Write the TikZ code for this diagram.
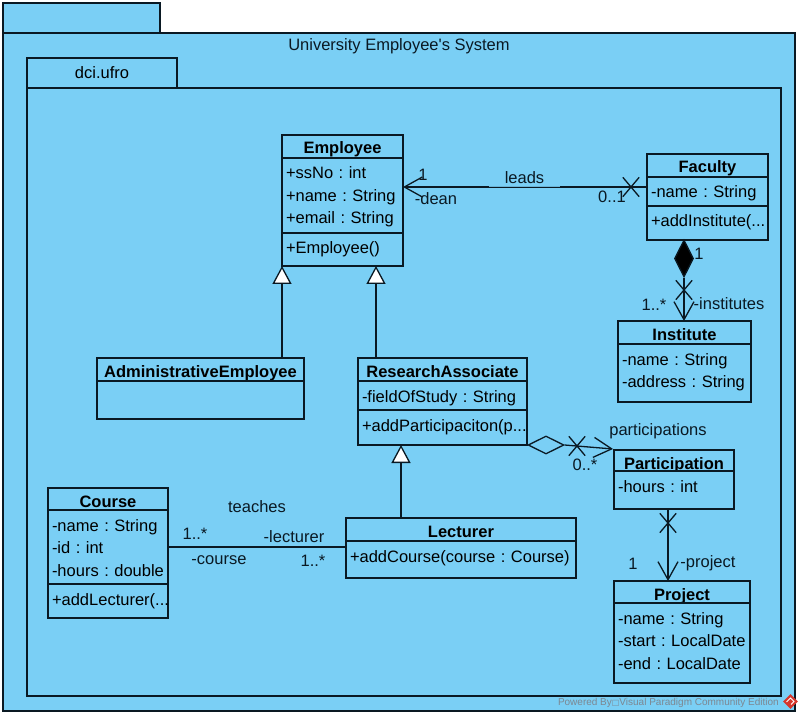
\documentclass[tikz,border=0pt]{standalone}
\usepackage{fontspec}
\setmainfont{Liberation Sans}
\newfontfamily\symfont{DejaVu Sans}
\definecolor{umlblue}{RGB}{122,207,245}
\definecolor{umlline}{RGB}{10,25,35}
\definecolor{umlgray}{RGB}{125,135,145}
\definecolor{umlred}{RGB}{214,55,45}
\usetikzlibrary{arrows.meta,positioning,shapes.geometric,shapes.misc}
\tikzset{
  pkg/.style={draw=umlline, fill=umlblue, line width=1.5pt, inner sep=0pt, outer sep=0pt, anchor=north west,
              font=\fontsize{16.5}{20}\selectfont},
  classhead/.style 2 args={draw=umlline, fill=umlblue, line width=1.5pt, inner ysep=0pt, inner xsep=4pt, outer sep=0pt,
              font=\fontsize{16.5}{20}\selectfont\bfseries, text width=#1, align=center, text height=19pt, text depth=#2},
  classpart/.style 2 args={draw=umlline, fill=umlblue, line width=1.5pt, inner ysep=0pt, inner xsep=4pt, outer sep=0pt,
              font=\fontsize{16.5}{22.5}\selectfont, text width=#1, align=left, text height=21pt, text depth=#2},
  lbl/.style={font=\fontsize{16.5}{20}\selectfont, text=umlline, inner sep=0pt},
  assoc/.style={draw=umlline, line width=1.3pt},
  navig/.style={assoc, -{Straight Barb[length=18pt, width=20pt, line width=1.3pt]}},
  gener/.style={assoc, -{Triangle[open, fill=white, length=18pt, width=19pt, line width=1.3pt]}},
  xmark/.style={draw=umlline, line width=1.3pt, cross out, inner sep=0pt, minimum width=15pt, minimum height=18pt},
  aggr/.style={draw=umlline, diamond, line width=1.3pt, inner sep=0pt, fill=#1},
}
\begin{document}
\frenchspacing
\begin{tikzpicture}[x=1pt, y=-1pt]
\useasboundingbox (0,0) rectangle (803,719);
% Packages
\node[pkg, minimum width=157pt, minimum height=30pt] (systab) at (3,3) {};
\node[pkg, minimum width=792pt, minimum height=678pt] (sysbody) at (3,33) {};
\node[lbl] (systitle) at (399,46) {University Employee\textquotesingle s System};
\node[pkg, minimum width=150pt, minimum height=30pt] (dcitab) at (27,58) {dci.ufro};
\node[pkg, minimum width=754pt, minimum height=608pt] (dcibody) at (27,88) {};

% Employee
\node[classhead={113pt}{4pt}, anchor=north west] (emp) at (282,135) {Employee};
\node[classpart={113pt}{54pt}, below=0pt of emp] (empattr) {+ssNo : int\\+name : String\\+email : String};
\node[classpart={113pt}{12pt}, below=0pt of empattr] (empops) {+Employee()};

% Faculty
\node[classhead={113pt}{4pt}, anchor=north west] (fac) at (647,154) {Faculty};
\node[classpart={113pt}{8pt}, below=0pt of fac] (facattr) {-name : String};
\node[classpart={113pt}{13pt}, below=0pt of facattr] (facops) {+addInstitute(...};

% Institute
\node[classhead={125pt}{4pt}, anchor=north west] (inst) at (618,321) {Institute};
\node[classpart={125pt}{37pt}, below=0pt of inst] (instattr) {-name : String\\-address : String};

% AdministrativeEmployee
\node[classhead={199pt}{4pt}, anchor=north west] (admin) at (97,358) {AdministrativeEmployee};
\node[classpart={199pt}{17pt}, below=0pt of admin] (adminattr) {};

% ResearchAssociate
\node[classhead={161pt}{4pt}, anchor=north west] (ra) at (358,358) {ResearchAssociate};
\node[classpart={161pt}{8pt}, below=0pt of ra] (raattr) {-fieldOfStudy : String};
\node[classpart={161pt}{14pt}, below=0pt of raattr] (raops) {+addParticipaciton(p...};

% Participation
\node[classhead={112pt}{2pt}, anchor=north west] (part) at (614,450) {Participation};
\node[classpart={112pt}{17pt}, below=0pt of part] (partattr) {-hours : int};

% Project
\node[classhead={128pt}{3pt}, anchor=north west] (proj) at (614,581) {Project};
\node[classpart={128pt}{59pt}, below=0pt of proj] (projattr) {-name : String\\-start : LocalDate\\-end : LocalDate};

% Lecturer
\node[classhead={222pt}{4pt}, anchor=north west] (lect) at (346,518) {Lecturer};
\node[classpart={222pt}{16pt}, below=0pt of lect] (lectops) {+addCourse(course : Course)};

% Course
\node[classhead={112pt}{3pt}, anchor=north west] (course) at (48,488) {Course};
\node[classpart={112pt}{53pt}, below=0pt of course] (courseattr) {-name : String\\-id : int\\-hours : double};
\node[classpart={112pt}{13pt}, below=0pt of courseattr] (courseops) {+addLecturer(...};

% Generalizations
\coordinate (admintop) at (282,358);
\coordinate (ratop) at (376,358);
\coordinate (lecttop) at (401,518);
\draw[gener] (admintop) -- (admintop |- empops.south);
\draw[gener] (ratop) -- (ratop |- empops.south);
\draw[gener] (lecttop) -- (lecttop |- raops.south);

% leads
\coordinate (leadsend) at (647,187);
\draw[navig] (leadsend) -- (leadsend -| empattr.east);
\node[xmark] (leadsx) at (631,187) {};
\node[lbl, fill=umlblue, fill opacity=0.85, text opacity=1, minimum width=71pt, minimum height=20pt] (leads) at (524.5,177.5) {leads};
\node[lbl] (deanmul) at (423,175) {1};
\node[lbl] (dean) at (436,199) {-dean};
\node[lbl] (leadsmul) at (612,197) {0..1};

% institutes
\node[aggr=black, minimum width=19pt, minimum height=37pt] (compos) at (684,258.5) {};
\draw[navig] (compos.south) -- (compos.south |- inst.north);
\node[xmark] (instx) at (684,290) {};
\node[lbl] (compmul) at (699,254) {1};
\node[lbl] (instmul) at (654,305) {1..*};
\node[lbl] (institutes) at (729,304) {-institutes};

% participations
\node[aggr=umlblue, minimum width=36pt, minimum height=18pt] (aggreg) at (546,445) {};
\coordinate (partend) at (613,449);
\draw[navig] (aggreg.east) -- (partend);
\node[xmark] (partx) at (577,446) {};
\node[lbl] (participations) at (658,431) {participations};
\node[lbl] (partmul) at (585,465) {0..*};

% project
\coordinate (projstart) at (668,510);
\draw[navig] (projstart) -- (projstart |- proj.north);
\node[xmark] (projx) at (668,523) {};
\node[lbl] (projmul) at (633,564) {1};
\node[lbl] (project) at (708,563) {-project};

% teaches
\draw[assoc] (courseattr.east) -- (courseattr.east -| lectops.west);
\node[lbl] (teaches) at (257,507) {teaches};
\node[lbl] (coursemul) at (195,534) {1..*};
\node[lbl] (lecturer) at (294,537) {-lecturer};
\node[lbl] (courselbl) at (219,560) {-course};
\node[lbl] (lectmul) at (313,561) {1..*};

% Watermark
\node[lbl, font=\fontsize{10}{12}\selectfont, text=umlgray, anchor=east] (powered) at (779,702.5) {Powered By{\symfont\fontsize{8}{10}\selectfont □}Visual Paradigm Community Edition};
\node[diamond, fill=umlred, inner sep=0pt, minimum size=15pt] (logo) at (790.5,701.5) {};
\draw[white, line width=1pt] (786.5,702) -- (790.5,698) -- (794,701.5) -- (791,704.5);
\end{tikzpicture}
\end{document}
